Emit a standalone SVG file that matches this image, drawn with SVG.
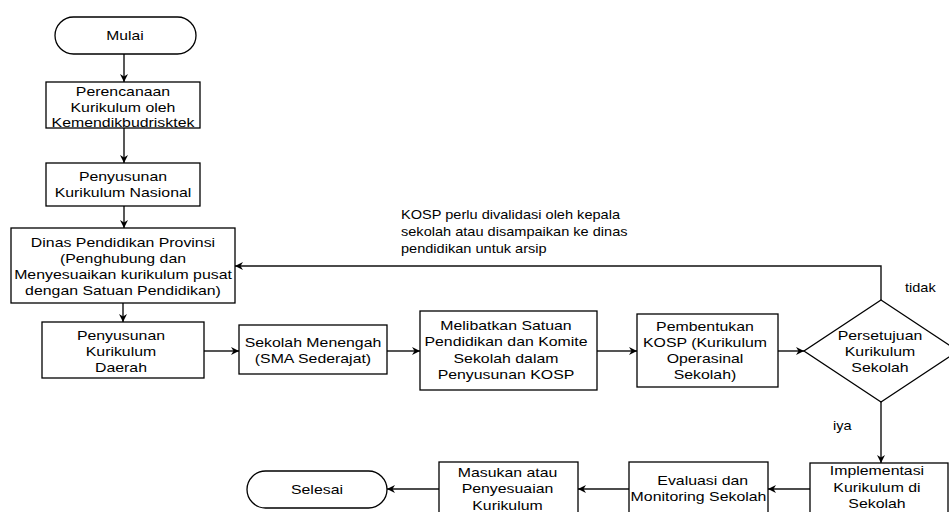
<svg xmlns="http://www.w3.org/2000/svg" width="949" height="512" viewBox="0 0 949 512">
<defs>
<style>
.box{fill:#fff;stroke:#000;stroke-width:1.3}
.t{font-family:"Liberation Sans",Arial,sans-serif;font-size:13px;fill:#000;text-anchor:middle}
.l{font-family:"Liberation Sans",Arial,sans-serif;font-size:13px;fill:#000;text-anchor:start}
.c{fill:none;stroke:#111;stroke-width:1.4;marker-end:url(#ah)}
.cg{fill:none;stroke:#555;stroke-width:2;marker-end:url(#ah)}
.cn{fill:none;stroke:#222;stroke-width:1.4}
</style>
<marker id="ah" markerWidth="9" markerHeight="8" refX="8" refY="4" orient="auto" markerUnits="userSpaceOnUse">
<path d="M0,0 L8,4 L0,8 L2.5,4 z" fill="#000"/>
</marker>
</defs>
<rect width="949" height="512" fill="#fff"/>
<g id="connectors">
<path class="c" d="M124,54 V82"/>
<path class="c" d="M124,128 V163"/>
<path class="c" d="M124,206 V228"/>
<path class="c" d="M123,303 V322"/>
<path class="cg" d="M204,351 H239"/>
<path class="cg" d="M387,351 H420"/>
<path class="cg" d="M597,351 H637"/>
<path class="cg" d="M778,351 H804"/>
<path class="c" d="M881,300 V266 H235"/>
<path class="c" d="M881,402 V463"/>
<path class="c" d="M810,489 H768"/>
<path class="c" d="M629,489 H578"/>
<path class="c" d="M439,489 H387"/>
</g>
<g id="mulai">
<rect class="box" x="55" y="17" width="141" height="37" rx="18.5"/>
<text class="t" transform="matrix(1.2 0 0 1 -25 0)" x="125" y="40.5">Mulai</text>
</g>
<g id="perencanaan">
<rect class="box" x="46" y="82" width="154" height="46"/>
<text class="t" transform="matrix(1.22 0 0 1 -27.06 0)"><tspan x="123" y="96">Perencanaan</tspan><tspan x="123" y="112">Kurikulum oleh</tspan><tspan x="123" y="127.5">Kemendikbudrisktek</tspan></text>
</g>
<g id="penyusunan-nasional">
<rect class="box" x="46" y="163" width="154" height="43"/>
<text class="t" transform="matrix(1.22 0 0 1 -27.06 0)"><tspan x="123" y="181">Penyusunan</tspan><tspan x="123" y="197">Kurikulum Nasional</tspan></text>
</g>
<g id="dinas">
<rect class="box" x="11" y="228" width="224" height="75"/>
<text class="t" transform="matrix(1.22 0 0 1 -27.06 0)"><tspan x="123" y="247">Dinas Pendidikan Provinsi</tspan><tspan x="123" y="263">(Penghubung dan</tspan><tspan x="123" y="279">Menyesuaikan kurikulum pusat</tspan><tspan x="123" y="295">dengan Satuan Pendidikan)</tspan></text>
</g>
<g id="penyusunan-daerah">
<rect class="box" x="42" y="322" width="162" height="56"/>
<text class="t" transform="matrix(1.22 0 0 1 -26.62 0)"><tspan x="121" y="340">Penyusunan</tspan><tspan x="121" y="356">Kurikulum</tspan><tspan x="121" y="372">Daerah</tspan></text>
</g>
<g id="sekolah-menengah">
<rect class="box" x="239" y="325" width="148" height="49"/>
<text class="t" transform="matrix(1.22 0 0 1 -68.86 0)"><tspan x="313" y="347">Sekolah Menengah</tspan><tspan x="313" y="363">(SMA Sederajat)</tspan></text>
</g>
<g id="melibatkan">
<rect class="box" x="420" y="311" width="177" height="79"/>
<text class="t" transform="matrix(1.22 0 0 1 -111.32 0)"><tspan x="506" y="330">Melibatkan Satuan</tspan><tspan x="506" y="346.5">Pendidikan dan Komite</tspan><tspan x="506" y="363">Sekolah dalam</tspan><tspan x="506" y="379.5">Penyusunan KOSP</tspan></text>
</g>
<g id="pembentukan">
<rect class="box" x="637" y="314" width="141" height="73"/>
<text class="t" transform="matrix(1.22 0 0 1 -155.1 0)"><tspan x="705" y="331">Pembentukan</tspan><tspan x="705" y="347">KOSP (Kurikulum</tspan><tspan x="705" y="363">Operasinal</tspan><tspan x="705" y="379">Sekolah)</tspan></text>
</g>
<g id="persetujuan">
<polygon class="box" points="881,300 958,351 881,402 804,351"/>
<text class="t" transform="matrix(1.22 0 0 1 -193.6 0)"><tspan x="880" y="340">Persetujuan</tspan><tspan x="880" y="356">Kurikulum</tspan><tspan x="880" y="372">Sekolah</tspan></text>
</g>
<g id="label-kosp">
<text class="l" transform="matrix(1.12 0 0 1 -48.12 0)"><tspan x="401" y="219">KOSP perlu divalidasi oleh kepala</tspan><tspan x="401" y="236">sekolah atau disampaikan ke dinas</tspan><tspan x="401" y="253">pendidikan untuk arsip</tspan></text>
</g>
<g id="label-tidak">
<text class="l" transform="matrix(1.12 0 0 1 -108.6 0)" x="905" y="292">tidak</text>
</g>
<g id="label-iya">
<text class="l" transform="matrix(1.12 0 0 1 -99.96 0)" x="833" y="430">iya</text>
</g>
<g id="implementasi">
<rect class="box" x="810" y="463" width="138" height="52"/>
<text class="t" transform="matrix(1.22 0 0 1 -192.94 0)"><tspan x="877" y="475">Implementasi</tspan><tspan x="877" y="492">Kurikulum di</tspan><tspan x="877" y="508">Sekolah</tspan></text>
</g>
<g id="evaluasi">
<rect class="box" x="629" y="462" width="139" height="53"/>
<text class="t" transform="matrix(1.22 0 0 1 -153.67 0)"><tspan x="702" y="485">Evaluasi dan</tspan><tspan x="698.5" y="501">Monitoring Sekolah</tspan></text>
</g>
<g id="masukan">
<rect class="box" x="439" y="462" width="139" height="53"/>
<text class="t" transform="matrix(1.22 0 0 1 -111.65 0)"><tspan x="507.5" y="477">Masukan atau</tspan><tspan x="507.5" y="493">Penyesuaian</tspan><tspan x="507.5" y="510">Kurikulum</tspan></text>
</g>
<g id="selesai">
<rect class="box" x="247" y="471" width="140" height="37" rx="18.5"/>
<text class="t" transform="matrix(1.22 0 0 1 -69.74 0)" x="317" y="494">Selesai</text>
</g>
</svg>
